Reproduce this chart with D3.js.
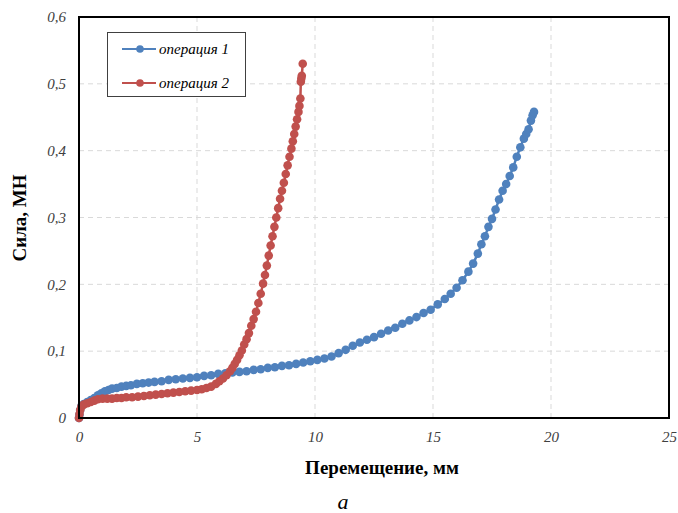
<html><head>
<script src="https://cdn.jsdelivr.net/npm/d3@7"></script>
<style>
  body { margin: 0; background: #fff; }
  svg text { font-family: "Liberation Serif", "Times New Roman", serif; }
  .tick text { font-style: italic; font-size: 15px; fill: #404040; }
  .grid line { stroke: #d9d9d9; stroke-dasharray: 5,4; stroke-width: 1; }
  .series path { fill: none; stroke-width: 2.5; }
</style>
</head>
<body>
<svg id="chart" width="678" height="513"></svg>
<script>

// operation 1 (blue) - displacement, mm / force, MN
const op1X = [0, 0.02, 0.05, 0.1, 0.2, 0.35, 0.5, 0.65, 0.8, 0.95, 1.1, 1.25, 1.4, 1.6, 1.8, 2.0, 2.2, 2.45, 2.7, 2.95,
  3.2, 3.5, 3.8, 4.1, 4.4, 4.7, 5.0, 5.3, 5.6, 5.9, 6.2, 6.5, 6.8, 7.1, 7.4, 7.7, 8.0, 8.3, 8.6, 8.9,
  9.2, 9.5, 9.8, 10.1, 10.4, 10.7, 11.0, 11.3, 11.6, 11.9, 12.2, 12.5, 12.8, 13.1, 13.4, 13.7, 14.0, 14.3, 14.6, 14.9,
  15.2, 15.5, 15.75, 16.0, 16.25, 16.5, 16.7, 16.9, 17.05, 17.2, 17.35, 17.5, 17.65, 17.8, 17.95, 18.1, 18.25, 18.4, 18.55, 18.7,
  18.85, 18.95, 19.05, 19.15, 19.22, 19.28];
const op1Y = [0, 0.005, 0.012, 0.018, 0.021, 0.024, 0.027, 0.030, 0.034, 0.037, 0.040, 0.042, 0.044, 0.045, 0.047, 0.048, 0.049, 0.051, 0.052, 0.053,
  0.054, 0.055, 0.057, 0.058, 0.059, 0.060, 0.061, 0.063, 0.064, 0.066, 0.067, 0.068, 0.069, 0.070, 0.072, 0.073, 0.075, 0.076, 0.078, 0.079,
  0.081, 0.083, 0.085, 0.087, 0.089, 0.092, 0.097, 0.102, 0.108, 0.113, 0.117, 0.121, 0.126, 0.131, 0.135, 0.141, 0.146, 0.151, 0.157, 0.162,
  0.170, 0.178, 0.186, 0.195, 0.206, 0.219, 0.231, 0.246, 0.260, 0.272, 0.286, 0.298, 0.312, 0.327, 0.340, 0.350, 0.362, 0.375, 0.391, 0.405,
  0.418, 0.425, 0.432, 0.445, 0.453, 0.458];

// operation 2 (red)
const op2X = [0, 0.02, 0.05, 0.1, 0.2, 0.35, 0.5, 0.65, 0.8, 1.0, 1.2, 1.4, 1.6, 1.8, 2.0, 2.25, 2.5, 2.75, 3.0, 3.25,
  3.5, 3.75, 4.0, 4.25, 4.5, 4.75, 5.0, 5.2, 5.4, 5.6, 5.8, 5.95, 6.1, 6.25, 6.4, 6.5, 6.6, 6.7, 6.8, 6.9,
  7.0, 7.1, 7.2, 7.3, 7.4, 7.5, 7.6, 7.7, 7.8, 7.88, 7.96, 8.04, 8.12, 8.2, 8.28, 8.36, 8.44, 8.52, 8.6, 8.68,
  8.76, 8.84, 8.92, 9.0, 9.06, 9.12, 9.18, 9.24, 9.3, 9.34, 9.38, 9.4, 9.42, 9.44, 9.48];
const op2Y = [0, 0.006, 0.012, 0.017, 0.020, 0.022, 0.024, 0.026, 0.028, 0.029, 0.029, 0.029, 0.030, 0.030, 0.031, 0.031, 0.032, 0.033, 0.034, 0.035,
  0.036, 0.037, 0.038, 0.039, 0.040, 0.041, 0.042, 0.043, 0.045, 0.047, 0.051, 0.055, 0.059, 0.064, 0.070, 0.075, 0.081, 0.087, 0.094, 0.101,
  0.110, 0.118, 0.127, 0.138, 0.148, 0.159, 0.172, 0.186, 0.201, 0.214, 0.228, 0.243, 0.258, 0.272, 0.286, 0.300, 0.314, 0.328, 0.340, 0.352,
  0.365, 0.378, 0.391, 0.403, 0.414, 0.425, 0.436, 0.447, 0.458, 0.467, 0.478, 0.503, 0.508, 0.512, 0.530];

const seriesNames = ["операция 1", "операция 2"];
const seriesColors = ["#4f81bd", "#c0504d"];
const xTicks = [0, 5, 10, 15, 20, 25];
const yTicks = [0, 0.1, 0.2, 0.3, 0.4, 0.5, 0.6];

let svg = d3.select("#chart");
let plot = { left: 79, right: 669, top: 17, bottom: 418 };

const xScale = d3.scaleLinear().domain([0, 25]).range([plot.left, plot.right]);
const yScale = d3.scaleLinear().domain([0, 0.6]).range([plot.bottom, plot.top]);
const fmt = d => String(d).replace(".", ",");

// gridlines
svg.append("g").attr("class", "grid")
  .selectAll("line").data(xTicks.slice(1, -1)).enter().append("line")
  .attr("x1", d => xScale(d)).attr("x2", d => xScale(d))
  .attr("y1", plot.top).attr("y2", plot.bottom);
svg.append("g").attr("class", "grid")
  .selectAll("line").data(yTicks.slice(1, -1)).enter().append("line")
  .attr("y1", d => yScale(d)).attr("y2", d => yScale(d))
  .attr("x1", plot.left).attr("x2", plot.right);

// axes (labels only, frame drawn separately)
let bottomAxis = d3.axisBottom(xScale).tickValues(xTicks).tickFormat(fmt).tickSize(0).tickPadding(13);
svg.append("g").attr("transform", "translate(0," + plot.bottom + ")").call(bottomAxis)
  .call(g => g.select(".domain").remove());
let leftAxis = d3.axisLeft(yScale).tickValues(yTicks).tickFormat(fmt).tickSize(0).tickPadding(13);
svg.append("g").attr("transform", "translate(" + plot.left + ",0)").call(leftAxis)
  .call(g => g.select(".domain").remove());

// series
let data = [
  op1X.map((x, i) => ({ x: x, y: op1Y[i] })),
  op2X.map((x, i) => ({ x: x, y: op2Y[i] }))
];
let line = d3.line().x(d => xScale(d.x)).y(d => yScale(d.y));

data.forEach((pts, k) => {
  let g = svg.append("g").attr("class", "series");
  g.append("path").datum(pts).attr("d", line).attr("stroke", seriesColors[k]);
  g.selectAll("circle").data(pts).enter().append("circle")
    .attr("cx", d => xScale(d.x)).attr("cy", d => yScale(d.y))
    .attr("r", 4.3).attr("fill", seriesColors[k]);
});

// plot frame
svg.append("rect")
  .attr("x", plot.left).attr("y", plot.top)
  .attr("width", plot.right - plot.left).attr("height", plot.bottom - plot.top)
  .attr("fill", "none").attr("stroke", "#000").attr("stroke-width", 2);

// legend
let legend = svg.append("g");
legend.append("rect").attr("x", 107.5).attr("y", 32.5).attr("width", 138).attr("height", 64)
  .attr("fill", "#fff").attr("stroke", "#404040").attr("stroke-width", 1);
seriesNames.forEach((name, k) => {
  let y = 49 + k * 34;
  legend.append("line").attr("x1", 122).attr("x2", 156).attr("y1", y).attr("y2", y)
    .attr("stroke", seriesColors[k]).attr("stroke-width", 2);
  legend.append("circle").attr("cx", 140).attr("cy", y).attr("r", 3.8).attr("fill", seriesColors[k]);
  legend.append("text").attr("x", 159).attr("y", y + 5)
    .style("font-style", "italic").style("font-size", "15px").attr("fill", "#000")
    .text(name);
});

// axis titles
svg.append("text").attr("x", 382).attr("y", 474)
  .attr("text-anchor", "middle").style("font-weight", "bold").style("font-size", "19px")
  .text("Перемещение, мм");
svg.append("text").attr("transform", "translate(26,218) rotate(-90)")
  .attr("text-anchor", "middle").style("font-weight", "bold").style("font-size", "19px")
  .text("Сила, МН");

svg.append("text").attr("x", 343).attr("y", 509)
  .attr("text-anchor", "middle").style("font-style", "italic").style("font-size", "22px")
  .text("а");

</script>
</body>
</html>
